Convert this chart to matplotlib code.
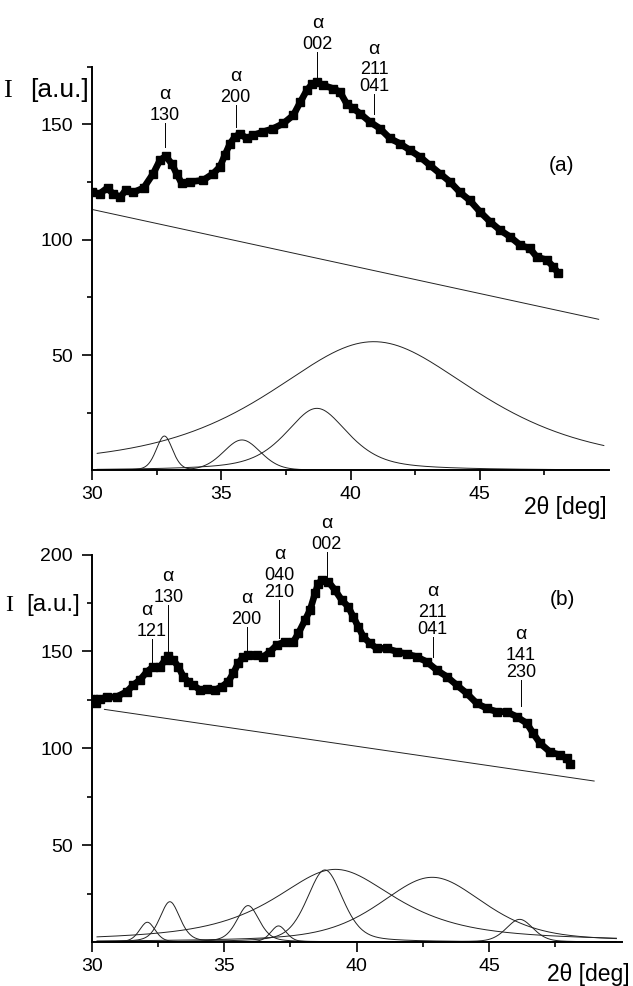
import numpy as np
import matplotlib
matplotlib.use("Agg")
import matplotlib.pyplot as plt
from matplotlib.transforms import offset_copy

plt.rcParams['font.family'] = ['Liberation Sans', 'DejaVu Sans']

# ---- panel (a) measured pattern ----
two_theta_a = [30.0, 30.3, 30.6, 30.8, 31.1, 31.3, 31.6, 32.0, 32.37, 32.63, 32.85, 33.08,
               33.27, 33.47, 33.79, 34.3, 34.69, 34.95, 35.14, 35.34, 35.53, 35.73, 35.98,
               36.24, 36.63, 37.01, 37.4, 37.79, 38.05, 38.31, 38.5, 38.7, 38.95, 39.33,
               39.59, 39.85, 40.11, 40.37, 40.75, 41.14, 41.53, 41.91, 42.3, 42.69, 43.07,
               43.46, 43.85, 44.24, 44.62, 45.01, 45.4, 45.78, 46.17, 46.56, 46.94, 47.2,
               47.59, 47.85, 48.04]
intensity_a = [120.5, 120.0, 122.5, 120.0, 118.5, 121.5, 120.5, 122.5, 128.7, 134.5, 136.2, 133.0,
               128.7, 124.4, 125.1, 125.8, 128.7, 131.6, 136.7, 141.7, 144.6, 146.0, 143.9,
               145.3, 146.8, 148.2, 150.4, 154.0, 159.5, 164.8, 167.3, 168.4, 167.0, 165.5,
               164.1, 159.0, 156.9, 154.7, 151.1, 148.2, 143.9, 141.7, 138.8, 135.9, 132.3,
               128.7, 125.1, 120.5, 117.0, 112.1, 107.8, 104.2, 101.3, 97.7, 96.2, 92.6,
               91.2, 88.3, 85.4]

# background line ends (a)
bg_x_a = [30.05, 49.6]
bg_y_a = [113.0, 65.5]

# fitted components (a): centre, height, fwhm, lorentz fraction
peak_pos_a = [32.8, 35.8, 38.7, 40.9]
peak_h_a = [14.9, 13.2, 26.9, 55.8]
peak_w_a = [0.75, 1.7, 2.9, 9.8]
peak_eta_a = [0.3, 0.2, 0.6, 0.7]

# reflections (a): x, line bottom, line top, hkl lines
refl_x_a = [32.83, 35.56, 38.72, 40.91]
refl_lo_a = [140.1, 148.7, 170.3, 154.7]
refl_hi_a = [150.5, 158.3, 181.4, 163.1]
refl_hkl_a = [['130'], ['200'], ['002'], ['211', '041']]

# ---- panel (b) measured pattern ----
two_theta_b = [30.06, 30.15, 30.3, 30.57, 30.94, 31.32, 31.57, 31.82, 32.08, 32.32, 32.58, 32.77,
               32.89, 33.08, 33.27, 33.46, 33.64, 33.83, 34.09, 34.34, 34.65, 34.91, 35.15,
               35.34, 35.53, 35.72, 35.91, 36.23, 36.48, 36.73, 36.98, 37.29, 37.61, 37.8,
               38.05, 38.24, 38.43, 38.55, 38.68, 38.93, 39.18, 39.43, 39.68, 39.87, 40.06,
               40.25, 40.5, 40.75, 41.13, 41.51, 41.89, 42.26, 42.64, 43.02, 43.4, 43.77,
               44.15, 44.53, 44.91, 45.28, 45.66, 46.04, 46.42, 46.66, 46.92, 47.29, 47.67,
               47.92, 48.05]
intensity_b = [125.3, 123.2, 125.5, 126.3, 126.6, 129.2, 132.7, 135.3, 139.5, 142.1, 142.1, 145.6,
               147.6, 145.6, 142.1, 137.0, 134.4, 132.7, 130.1, 130.5, 130.1, 131.8, 134.4,
               138.7, 143.9, 147.3, 148.2, 148.2, 147.3, 149.9, 153.3, 155.0, 155.0, 159.4,
               166.2, 171.4, 180.0, 185.0, 186.9, 186.0, 181.7, 176.6, 173.1, 167.9, 162.8,
               157.6, 154.2, 151.6, 151.6, 149.9, 148.7, 147.3, 144.7, 140.4, 137.0, 132.7,
               128.4, 123.2, 120.6, 118.9, 118.9, 116.3, 112.9, 107.7, 102.6, 98.2, 96.5,
               94.8, 92.0]

bg_x_b = [30.48, 48.96]
bg_y_b = [120.1, 83.1]

peak_pos_b = [32.1, 32.95, 35.9, 37.05, 38.8, 39.2, 42.85, 46.15]
peak_h_b = [10.2, 20.8, 18.8, 8.3, 37.2, 37.5, 33.4, 11.7]
peak_w_b = [0.7, 0.9, 1.0, 0.7, 1.6, 5.6, 4.7, 1.2]
peak_eta_b = [0.3, 0.4, 0.4, 0.3, 0.4, 0.8, 0.5, 0.3]

refl_x_b = [32.26, 32.89, 35.85, 37.08, 38.87, 42.87, 46.2]
refl_lo_b = [143.9, 149.9, 150.7, 156.8, 187.8, 147.3, 121.8]
refl_hi_b = [156.4, 174.0, 162.8, 176.6, 201.5, 157.6, 135.3]
refl_hkl_b = [['121'], ['130'], ['200'], ['040', '210'], ['002'], ['211', '041'], ['141', '230']]

# small horizontal nudge (points) of the α signs so crowded labels do not touch
alpha_nudge_a = [0, 0, 0, 0]
alpha_nudge_b = [-3.5, 0, 0, 0, 0, 0, 0]

W, H = 633, 986
fig = plt.figure(figsize=(W / 100, H / 100), dpi=100)


def px_axes(l, t, r, b):
    return fig.add_axes([l / W, 1 - b / H, (r - l) / W, (b - t) / H])


def pv(x, c, h, w, eta):
    d = (x - c) / (w / 2)
    return h * (eta / (1 + d ** 2) + (1 - eta) * np.exp(-np.log(2) * d ** 2))


def draw_panel(ax, tt, inten, bgx, bgy, pos, hh, ww, ee, rx, rlo, rhi, rhkl, nudge, ymax, yticks):
    grid = np.linspace(30.2, 49.8, 600)
    for c, h, w, e in zip(pos, hh, ww, ee):
        ax.plot(grid, pv(grid, c, h, w, e), color='#222222', lw=0.7, zorder=2)
    ax.plot(bgx, bgy, color='#222222', lw=0.7, zorder=2)
    ax.plot(tt, inten, color='black', lw=4.8, marker='s', ms=5.5, zorder=3)

    # reflection markers with hkl labels
    for x, lo, hi, hkl, nx in zip(rx, rlo, rhi, rhkl, nudge):
        ax.plot([x, x], [lo, hi], color='black', lw=0.7, clip_on=False)
        n = len(hkl)
        for i, s in enumerate(hkl):
            dy = 2.2 + 12 * (n - 1 - i)
            tr = offset_copy(ax.transData, fig=fig, x=0, y=dy, units='points')
            ax.text(x, hi, s, transform=tr, ha='center', va='baseline', fontsize=13, clip_on=False)
        dy = 2.2 + 12 * (n - 1) + 15
        tr = offset_copy(ax.transData, fig=fig, x=nx, y=dy, units='points')
        ax.text(x, hi, 'α', transform=tr, ha='center', va='baseline', fontsize=14, clip_on=False)

    ax.set_xlim(30, 50)
    ax.set_ylim(0, ymax)
    for s in ['top', 'right']:
        ax.spines[s].set_visible(False)
    for s in ['left', 'bottom']:
        ax.spines[s].set_linewidth(1.4)
    ax.set_xticks([30, 35, 40, 45])
    ax.set_xticks([32.5, 37.5, 42.5, 47.5], minor=True)
    ax.set_yticks(yticks)
    ax.set_yticks([25, 75, 125, 175], minor=True)
    ax.tick_params(which='major', length=7.5, width=1.2, labelsize=14, direction='out')
    ax.tick_params(which='minor', length=3.5, width=1.2, direction='out')
    ax.tick_params(axis='y', pad=6)
    ax.tick_params(axis='x', pad=4)


ax_a = px_axes(92, 66.7, 609, 470.4)
ax_b = px_axes(91.7, 554.6, 621.7, 942)

draw_panel(ax_a, two_theta_a, intensity_a, bg_x_a, bg_y_a, peak_pos_a, peak_h_a, peak_w_a,
           peak_eta_a, refl_x_a, refl_lo_a, refl_hi_a, refl_hkl_a, alpha_nudge_a, 175, [50, 100, 150])
draw_panel(ax_b, two_theta_b, intensity_b, bg_x_b, bg_y_b, peak_pos_b, peak_h_b, peak_w_b,
           peak_eta_b, refl_x_b, refl_lo_b, refl_hi_b, refl_hkl_b, alpha_nudge_b, 200,
           [50, 100, 150, 200])

ax_a.text(48.18, 132.3, '(a)', ha='center', va='center', fontsize=15)
ax_b.text(47.75, 176.6, '(b)', ha='center', va='center', fontsize=15)


def ylabel(x_left, x_right, y_base, size):
    fig.text(x_right / W, 1 - y_base / H, '[a.u.]', ha='right', va='baseline', fontsize=size)
    fig.text(x_left / W, 1 - y_base / H, 'I', ha='left', va='baseline', fontsize=size,
             family='Liberation Serif')


ylabel(3, 89, 97, 19)
ylabel(5, 80, 611, 17.5)

fig.text(607 / W, 1 - 514 / H, '2θ [deg]', ha='right', va='baseline', fontsize=16.5)
fig.text(630 / W, 1 - 981 / H, '2θ [deg]', ha='right', va='baseline', fontsize=16.5)

fig.savefig('out.png', dpi=100)
